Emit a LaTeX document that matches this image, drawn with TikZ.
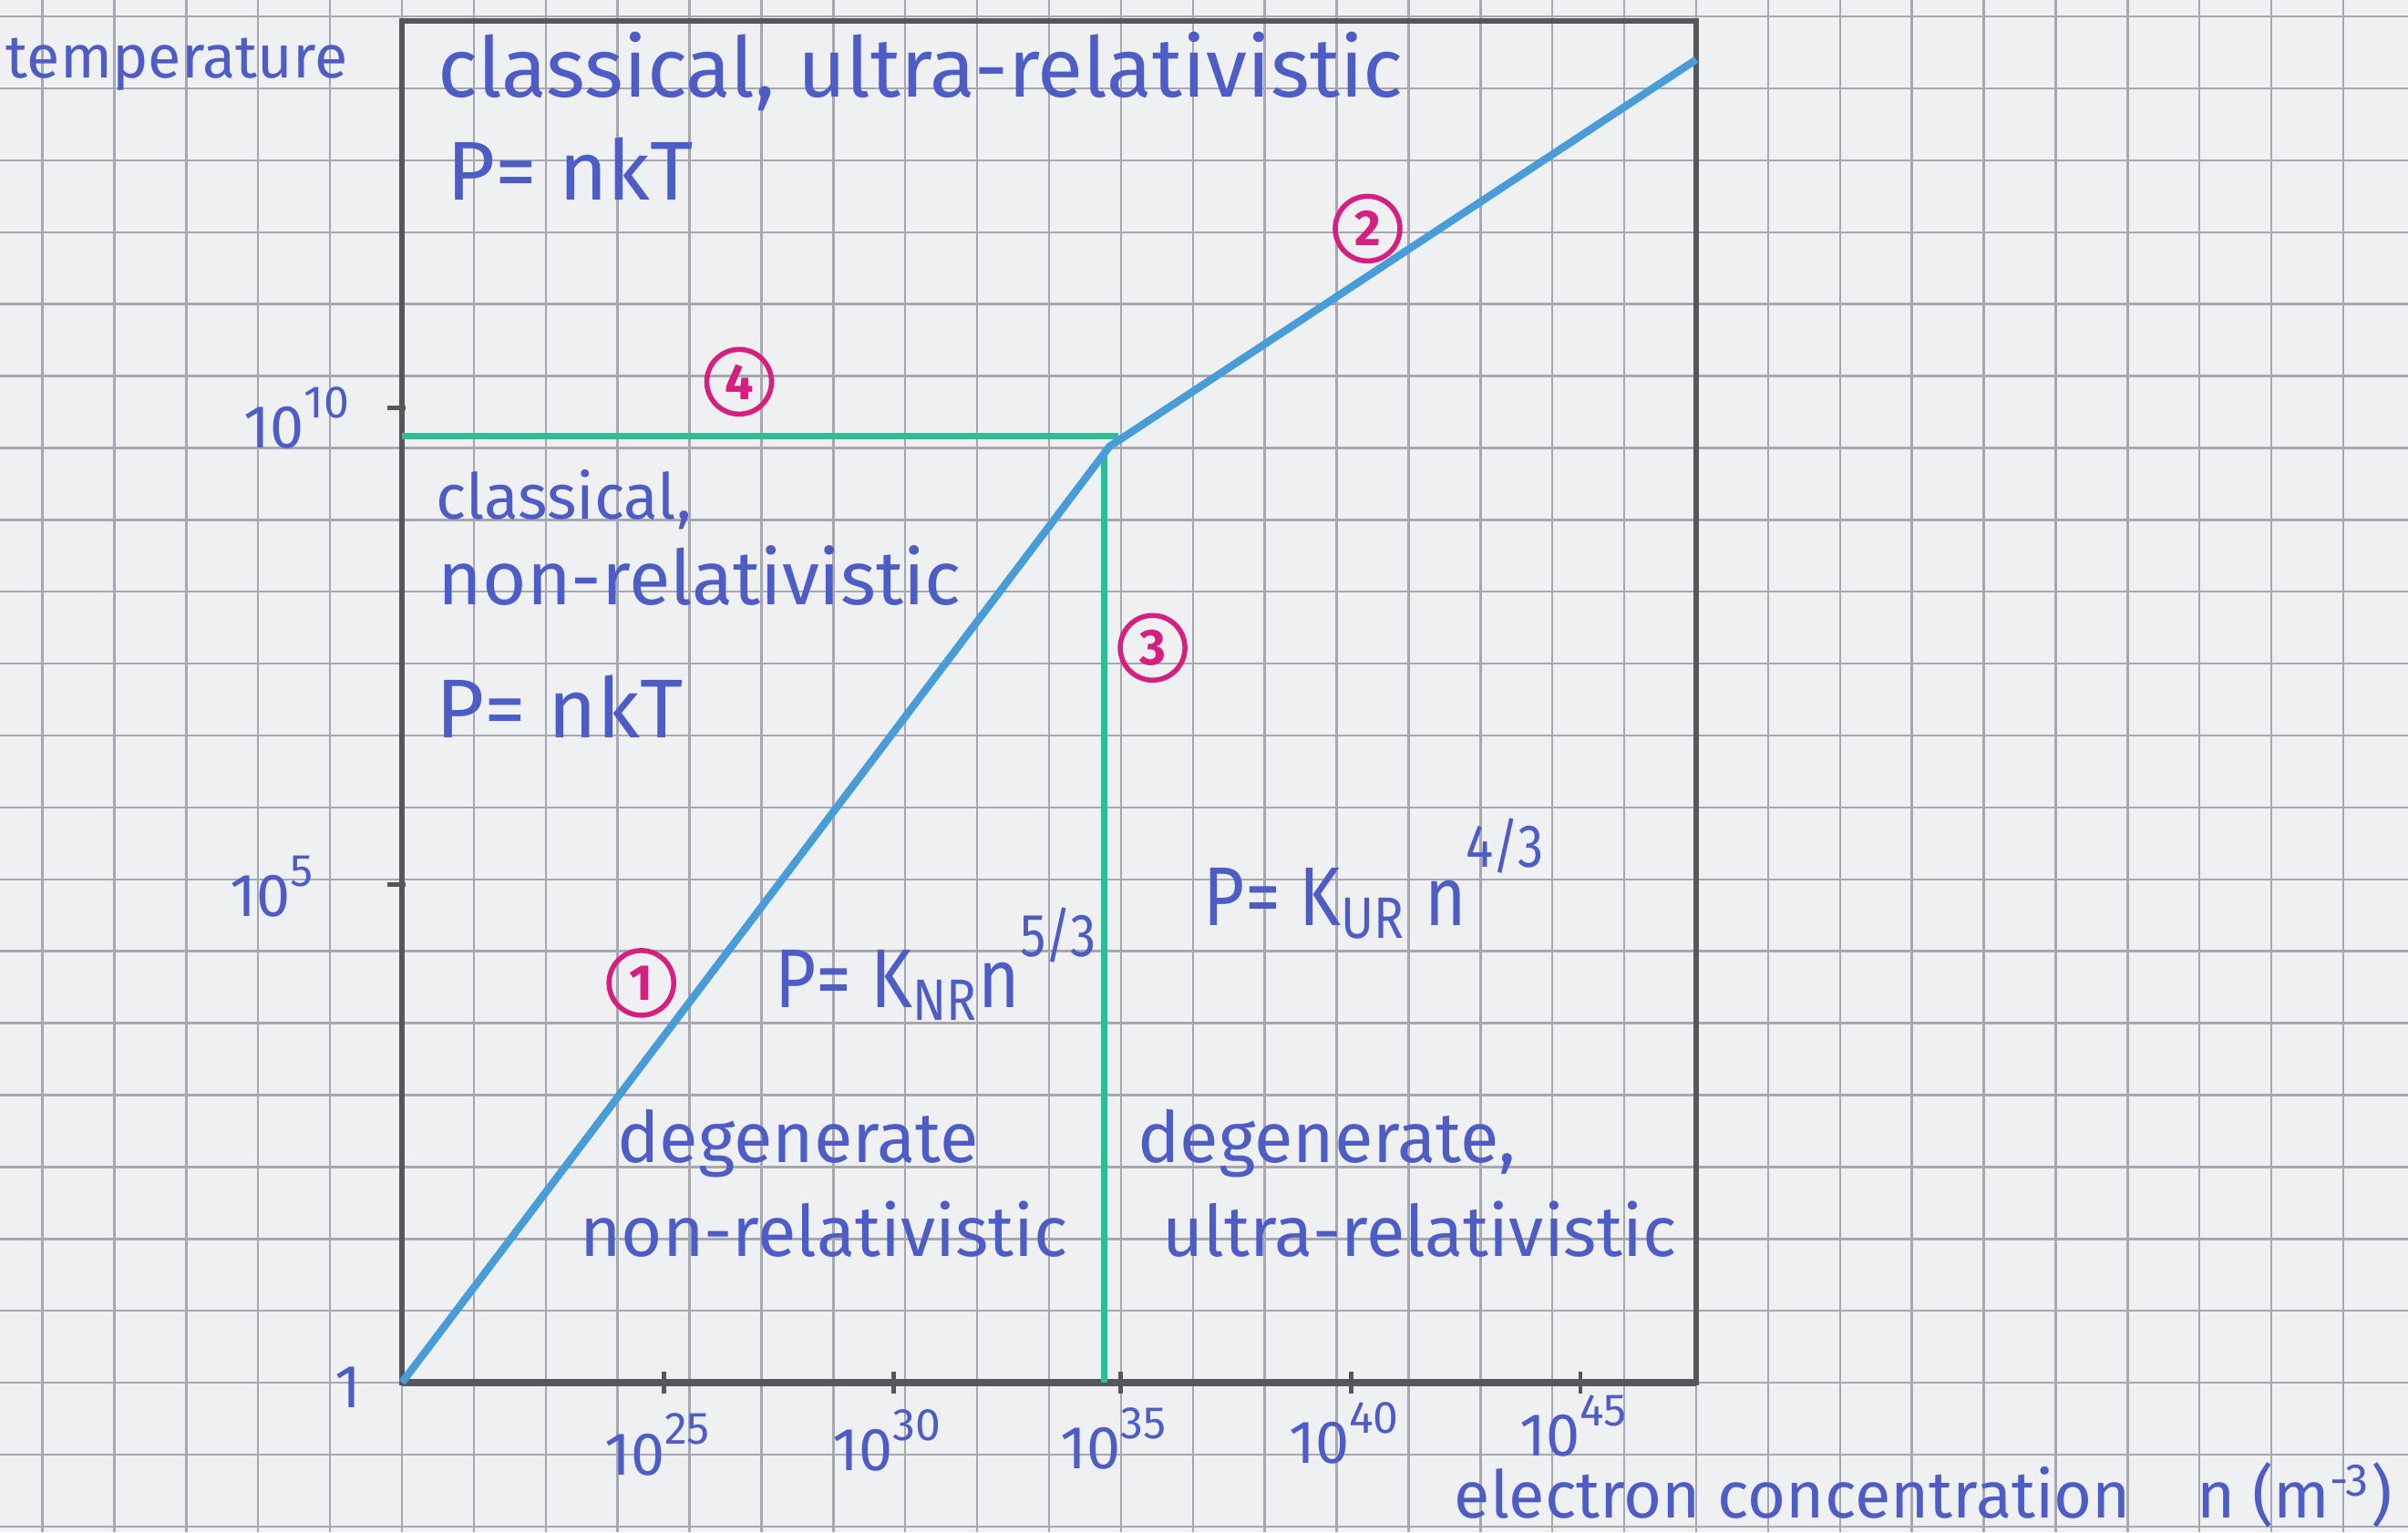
\documentclass[tikz,border=0pt]{standalone}
\usepackage{graphicx}
\usepackage{fontspec}
\setmainfont{Fira Sans}
\definecolor{paper}{RGB}{239,240,242}
\definecolor{gridgray}{RGB}{166,167,177}
\definecolor{pencil}{RGB}{86,86,92}
\definecolor{biro}{RGB}{78,92,198}
\definecolor{sky}{RGB}{72,156,216}
\definecolor{mint}{RGB}{46,188,150}
\definecolor{rosy}{RGB}{214,32,128}
\newcommand{\hand}[1]{\fontsize{#1}{#1}\selectfont}
\newcommand{\tenpow}[1]{10\raisebox{0.5em}{\hand{9}#1}}
\newcommand{\slim}[1]{\scalebox{0.85}[1]{#1}}

\begin{document}
\begin{tikzpicture}[x=0.5cm,y=0.5cm,
  lbl/.style={text=biro,font=\hand{14},inner sep=0pt},
  ticklbl/.style={lbl,font=\hand{12}},
  tag/.style={circle,draw=rosy,text=rosy,line width=1pt,minimum size=4.5mm,inner sep=0pt,font=\bfseries\hand{10}},
  regime/.style={sky,line width=1.5pt,line join=round},
  bound/.style={mint,line width=1.3pt}]
  \useasboundingbox (-5.59,-2.08) rectangle (27.9,19.23);
  \fill[paper] (-5.59,-2.08) rectangle (27.9,19.23);
  \draw[gridgray,line width=0.45pt,step=0.5cm] (-5.59,-2.08) grid (27.9,19.23);

  % frame and axes
  \coordinate (O) at (0,0);
  \draw[pencil,line width=1pt] (O) rectangle (18,18.94);
  \draw[pencil,line width=1.3pt] (O) -- (18,0);
  \foreach \x/\e/\y in {3.65/25/-0.86,6.84/30/-0.8,9.99/35/-0.78,13.2/40/-0.7,16.39/45/-0.6}{
    \draw[pencil,line width=0.9pt] (\x,-0.15) -- (\x,0.15);
    \node[ticklbl] (xt\e) at (\x-0.1,\y) {\tenpow{\e}};
  }
  \draw[pencil,line width=1pt] (-0.2,13.56) -- (0.05,13.56);
  \draw[pencil,line width=1pt] (-0.2,6.93) -- (0.05,6.93);
  \node[ticklbl,anchor=east] (yt10) at (-0.72,13.42) {\tenpow{10}};
  \node[ticklbl,anchor=east] (yt5) at (-1.22,6.9) {\tenpow{5}};
  \node[ticklbl,anchor=east] (yt0) at (-0.55,-0.06) {1};
  \node[lbl,font=\hand{12}] (ylab) at (-3.13,18.33) {temperature};
  \node[lbl,font=\hand{13},anchor=base east] (xlab) at (27.7,-1.88) {electron concentration\quad n (m\textsuperscript{-3})};

  % regime boundaries
  \coordinate (kink) at (9.84,13.02);
  \coordinate (end) at (18,18.4);
  \coordinate (h0) at (0,13.16);
  \coordinate (h1) at (9.96,13.16);
  \coordinate (v0) at (9.77,12.93);
  \coordinate (v1) at (9.77,0);
  \draw[bound] (h0) -- (h1);
  \draw[bound] (v0) -- (v1);
  \draw[regime] (O) -- (kink) -- (end);

  % regions
  \node[lbl,anchor=west,font=\hand{16.5}] (cur) at (0.49,18.23) {classical, ultra-relativistic};
  \node[lbl,anchor=west,font=\hand{16.5}] (pcur) at (0.61,16.88) {P= nkT};
  \node[lbl,anchor=west,font=\hand{12.5}] (cnr) at (0.46,12.28) {classical,};
  \node[lbl,anchor=west,font=\hand{15}] (cnr2) at (0.49,11.22) {non-relativistic};
  \node[lbl,anchor=west,font=\hand{16.5}] (pcnr) at (0.46,9.40) {P= nkT};
  \node[lbl,anchor=base west,font=\hand{16.5}] (pnr) at (5.18,5.22) {\slim{P= K\textsubscript{NR}n\raisebox{10pt}{\hand{12}5/3}}};
  \node[lbl,anchor=base west,font=\hand{16.5}] (pur) at (11.14,6.36) {\slim{P= K\textsubscript{UR} n\raisebox{11.5pt}{\hand{12}4/3}}};
  \node[lbl] (dnr) at (5.51,3.32) {degenerate};
  \node[lbl] (dnr2) at (5.87,2.14) {non-relativistic};
  \node[lbl] (dur) at (12.86,3.32) {degenerate,};
  \node[lbl] (dur2) at (14.15,2.14) {ultra-relativistic};

  % numbered markers
  \foreach \n/\p in {1/{3.33,5.56},2/{13.43,16.05},3/{10.44,10.22},4/{4.69,13.92}}
    \node[tag] (m\n) at (\p) {\n};
\end{tikzpicture}
\end{document}
